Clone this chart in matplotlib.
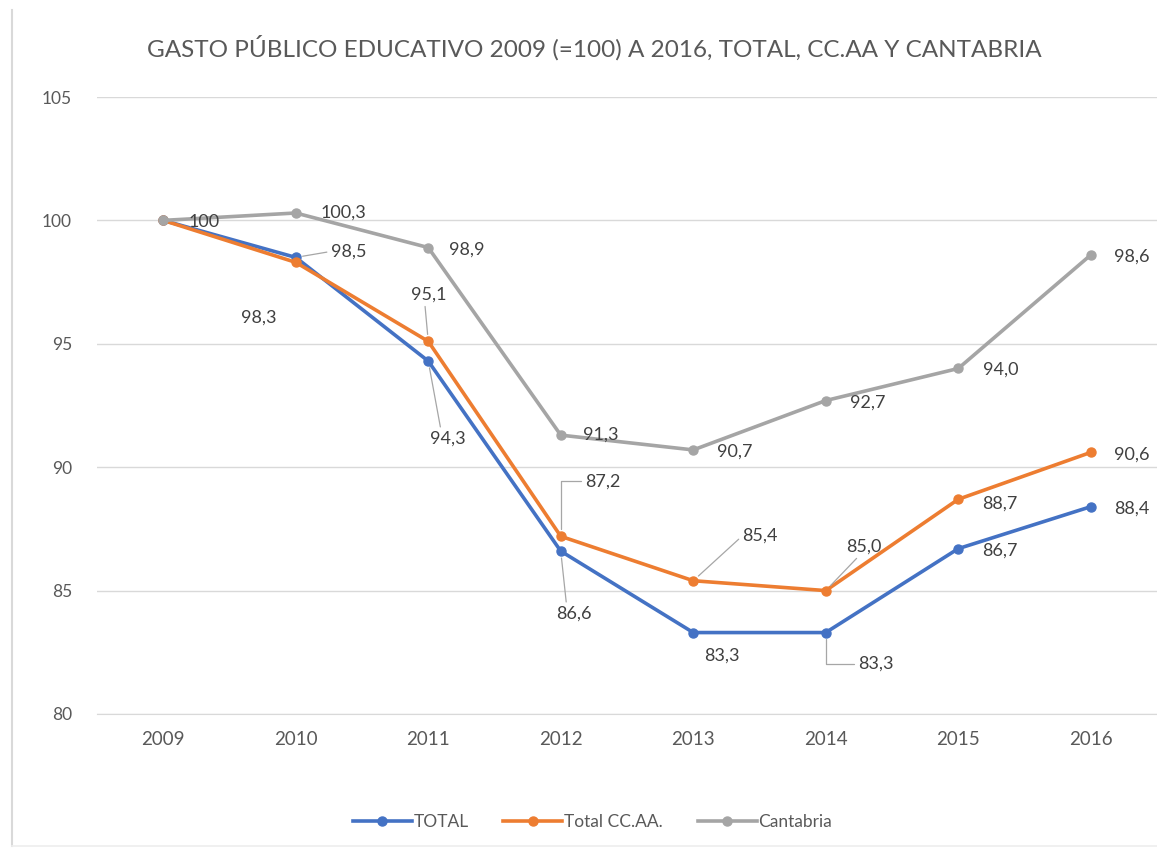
import numpy as np
import matplotlib.pyplot as plt
from matplotlib.lines import Line2D

plt.rcParams['font.family'] = ['Lato', 'DejaVu Sans']

years = ['2009', '2010', '2011', '2012', '2013', '2014', '2015', '2016']
total = [100, 98.5, 94.3, 86.6, 83.3, 83.3, 86.7, 88.4]
total_ccaa = [100, 98.3, 95.1, 87.2, 85.4, 85.0, 88.7, 90.6]
cantabria = [100, 100.3, 98.9, 91.3, 90.7, 92.7, 94.0, 98.6]

series_names = ['TOTAL', 'Total CC.AA.', 'Cantabria']
colors = ['#4472C4', '#ED7D31', '#A5A5A5']

# label offsets in pixels (dx, dy, leader style); None = no label
lab_total = [None, (53, 6, 'line'), (20, -78, 'line'), (13, -63, 'line'),
             (29, -23, None), (50, -31, 'elbow'), (42, -2, None), (41, -2, None)]
lab_ccaa = [None, (-37, -55, None), (0, 47, 'line'), (42, 55, 'elbow'),
            (67, 45, 'line'), (38, 44, 'line'), (42, -4, None), (41, -2, None)]
lab_cant = [(41, -2, None), (48, 0, None), (38, -2, None), (40, 0, None),
            (42, -2, None), (42, -2, None), (42, -1, None), (41, -2, None)]


def fmt(v):
    if v == 100:
        return '100'
    return f'{v:.1f}'.replace('.', ',')


fig = plt.figure(figsize=(11.57, 8.48), dpi=100)
# outer chart border (left and bottom edges visible)
fig.lines.append(Line2D([11.5 / 1157, 11.5 / 1157], [2 / 848, 1 - 10 / 848],
                        transform=fig.transFigure, color='#D9D9D9', linewidth=1.5))
fig.lines.append(Line2D([11.5 / 1157, 1.0], [2 / 848, 2 / 848],
                        transform=fig.transFigure, color='#EEEEEE', linewidth=1.2))

ax = fig.add_axes([97 / 1157, 1 - 714 / 848, 1 - 97 / 1157, (714 - 97) / 848])

x = np.arange(len(years))
for vals, name, c in zip([total, total_ccaa, cantabria], series_names, colors):
    ax.plot(x, vals, color=c, linewidth=2.6, marker='o', markersize=6.5, label=name,
            zorder=3)

for vals, labs in zip([total, total_ccaa, cantabria], [lab_total, lab_ccaa, lab_cant]):
    for i, (v, lab) in enumerate(zip(vals, labs)):
        if lab is None:
            continue
        dx, dy, leader = lab
        kw = {}
        if leader == 'line':
            if abs(dx) > abs(dy):
                rp = (0, 0.5)
            elif dy > 0:
                rp = (0.4, 0)
            else:
                rp = (0.3, 1)
            kw['arrowprops'] = dict(arrowstyle='-', color='#A6A6A6', lw=0.9,
                                    shrinkA=1, shrinkB=5, relpos=rp)
        elif leader == 'elbow':
            kw['arrowprops'] = dict(arrowstyle='-', color='#A6A6A6', lw=0.9,
                                    shrinkA=1, shrinkB=5, relpos=(0, 0.5),
                                    connectionstyle='angle,angleA=0,angleB=90,rad=0')
        ax.annotate(fmt(v), xy=(i, v), xytext=(dx, dy), textcoords='offset pixels',
                    ha='center', va='center', fontsize=13, color='#404040', zorder=4, **kw)

ax.set_xlim(-0.5, len(years) - 0.5)
ax.set_ylim(80, 105)
ax.set_yticks([80, 85, 90, 95, 100, 105])
ax.set_xticks(x)
ax.set_xticklabels(years)
ax.grid(axis='y', color='#D9D9D9', linewidth=1)
ax.set_axisbelow(True)
for s in ['top', 'right', 'left']:
    ax.spines[s].set_visible(False)
ax.spines['bottom'].set_color('#D9D9D9')
ax.tick_params(axis='both', length=0, labelcolor='#595959')
ax.tick_params(axis='y', pad=18, labelsize=12.5)
ax.tick_params(axis='x', pad=12, labelsize=13.5)

fig.text(0.514, 1 - 48 / 848, 'GASTO PÚBLICO EDUCATIVO 2009 (=100) A 2016, TOTAL, CC.AA Y CANTABRIA',
         ha='center', va='center', fontsize=17.5, color='#595959')

fig.legend(loc='center', bbox_to_anchor=(0.512, 1 - 822 / 848), ncol=3, frameon=False,
           fontsize=12.5, handlelength=3.4, columnspacing=2.0, handletextpad=0.1,
           labelcolor='#595959')

fig.savefig('out.png', dpi=100)
